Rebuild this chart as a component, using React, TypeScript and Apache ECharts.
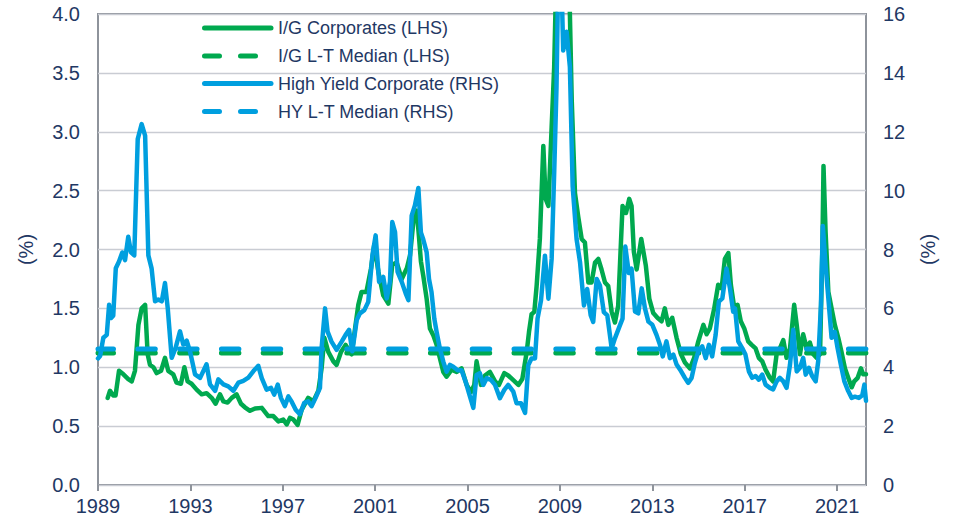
import React, { useEffect, useRef } from "react";
import * as echarts from "echarts";

const START_YEAR = 1989;
const END_YEAR = 2022.25;
const xTickYears = [1989, 1993, 1997, 2001, 2005, 2009, 2013, 2017, 2021];

const igYears = [
  1989.42, 1989.52, 1989.66, 1989.76, 1989.91, 1990.1, 1990.31, 1990.46, 1990.6, 1990.75, 1990.89, 1991.04,
  1991.15, 1991.25, 1991.4, 1991.54, 1991.73, 1991.9, 1992.04, 1992.26, 1992.4, 1992.59, 1992.74, 1992.88,
  1993.05, 1993.27, 1993.49, 1993.7, 1993.92, 1994.09, 1994.28, 1994.43, 1994.61, 1994.79, 1995.0, 1995.19,
  1995.36, 1995.58, 1995.8, 1996.09, 1996.37, 1996.59, 1996.81, 1997.02, 1997.17, 1997.31, 1997.46, 1997.64,
  1997.82, 1998.1, 1998.32, 1998.54, 1998.68, 1998.8, 1998.97, 1999.19, 1999.33, 1999.52, 1999.72, 1999.98,
  2000.13, 2000.27, 2000.41, 2000.62, 2000.82, 2000.96, 2001.14, 2001.35, 2001.57, 2001.74, 2001.93, 2002.15,
  2002.37, 2002.51, 2002.65, 2002.8, 2002.9, 2002.98, 2003.08, 2003.23, 2003.37, 2003.52, 2003.66, 2003.8,
  2003.95, 2004.09, 2004.31, 2004.53, 2004.74, 2004.96, 2005.15, 2005.29, 2005.39, 2005.58, 2005.75, 2005.97,
  2006.19, 2006.36, 2006.59, 2006.76, 2006.98, 2007.2, 2007.37, 2007.56, 2007.66, 2007.77, 2007.89, 2007.99,
  2008.13, 2008.28, 2008.38, 2008.5, 2008.64, 2008.75, 2008.86, 2009.0, 2009.2, 2009.35, 2009.43, 2009.51,
  2009.65, 2009.79, 2009.94, 2010.08, 2010.23, 2010.37, 2010.52, 2010.66, 2010.8, 2010.95, 2011.09, 2011.24,
  2011.38, 2011.52, 2011.71, 2011.86, 2012.0, 2012.1, 2012.2, 2012.32, 2012.52, 2012.72, 2012.87, 2013.04,
  2013.22, 2013.4, 2013.54, 2013.69, 2013.86, 2014.05, 2014.24, 2014.41, 2014.63, 2014.81, 2014.99, 2015.21,
  2015.35, 2015.49, 2015.68, 2015.85, 2016.0, 2016.14, 2016.29, 2016.4, 2016.55, 2016.69, 2016.83, 2016.98,
  2017.15, 2017.3, 2017.47, 2017.61, 2017.76, 2017.9, 2018.09, 2018.23, 2018.38, 2018.52, 2018.67, 2018.81,
  2018.96, 2019.14, 2019.25, 2019.39, 2019.53, 2019.68, 2019.82, 2019.97, 2020.11, 2020.26, 2020.36, 2020.41,
  2020.5, 2020.62, 2020.76, 2020.9, 2021.05, 2021.19, 2021.34, 2021.48, 2021.63, 2021.74, 2021.89, 2022.03,
  2022.13, 2022.25,
];
const igValues = [
  0.74, 0.8, 0.76, 0.76, 0.97, 0.94, 0.9, 0.88, 0.97, 1.36, 1.5, 1.53,
  1.11, 1.02, 1.0, 0.95, 0.97, 1.08, 0.97, 0.94, 0.87, 0.86, 1.0, 0.88,
  0.86, 0.81, 0.77, 0.78, 0.74, 0.69, 0.77, 0.71, 0.7, 0.74, 0.77, 0.69,
  0.66, 0.63, 0.65, 0.655, 0.585, 0.585, 0.54, 0.556, 0.514, 0.57, 0.556, 0.51,
  0.64, 0.74, 0.71, 0.8, 0.99, 1.25, 1.13, 1.05, 1.02, 1.13, 1.19, 1.11,
  1.33, 1.53, 1.64, 1.64, 1.84, 2.04, 1.81, 1.61, 1.54, 1.87, 1.89, 1.75,
  1.84, 1.95, 2.23, 2.33, 2.1, 1.9, 1.78, 1.58, 1.33, 1.27, 1.19, 1.08,
  0.96, 0.92, 0.98, 0.96, 0.99, 0.85, 0.79, 0.85, 1.05, 0.85, 0.93, 0.96,
  0.88, 0.85, 0.95, 0.93, 0.89, 0.85, 0.9, 1.13, 1.3, 1.45, 1.47, 1.69,
  2.09, 2.88, 2.43, 2.37, 3.04, 3.55, 4.5, 5.6, 5.9, 4.8, 4.0, 3.27,
  2.48, 2.28, 2.09, 2.06, 1.72, 1.72, 1.89, 1.92, 1.83, 1.72, 1.69, 1.47,
  1.38, 1.52, 2.37, 2.31, 2.43, 2.37, 1.98, 1.83, 2.09, 1.86, 1.58, 1.46,
  1.42, 1.39, 1.5, 1.36, 1.42, 1.25, 1.11, 1.04, 0.99, 1.08, 1.22, 1.36,
  1.28, 1.33, 1.5, 1.7, 1.67, 1.92, 1.97, 1.7, 1.5, 1.53, 1.39, 1.33,
  1.22, 1.19, 1.16, 1.08, 1.05, 0.98, 0.91, 0.88, 1.11, 1.16, 1.23, 1.08,
  1.16, 1.53, 1.36, 1.11, 1.28, 1.16, 1.21, 1.11, 1.08, 1.11, 2.0, 2.71,
  2.15, 1.64, 1.5, 1.36, 1.25, 1.13, 0.99, 0.91, 0.83, 0.88, 0.91, 0.99,
  0.94, 0.94,
];

const hyYears = [
  1989.0, 1989.09, 1989.23, 1989.38, 1989.48, 1989.56, 1989.66, 1989.77, 1989.91, 1990.05, 1990.17, 1990.31,
  1990.43, 1990.57, 1990.72, 1990.89, 1991.04, 1991.18, 1991.32, 1991.47, 1991.61, 1991.76, 1991.9, 1992.02,
  1992.19, 1992.36, 1992.55, 1992.69, 1992.84, 1992.98, 1993.2, 1993.42, 1993.7, 1993.85, 1994.07, 1994.21,
  1994.43, 1994.64, 1994.86, 1995.08, 1995.29, 1995.51, 1995.73, 1995.94, 1996.09, 1996.3, 1996.49, 1996.63,
  1996.78, 1996.92, 1997.09, 1997.24, 1997.38, 1997.56, 1997.74, 1997.93, 1998.1, 1998.25, 1998.42, 1998.61,
  1998.68, 1998.83, 1998.94, 1999.11, 1999.33, 1999.55, 1999.72, 1999.87, 2000.01, 2000.2, 2000.34, 2000.53,
  2000.7, 2000.88, 2001.02, 2001.17, 2001.35, 2001.5, 2001.64, 2001.74, 2001.86, 2001.97, 2002.15, 2002.32,
  2002.44, 2002.58, 2002.72, 2002.87, 2002.98, 2003.08, 2003.23, 2003.33, 2003.44, 2003.56, 2003.66, 2003.8,
  2003.95, 2004.09, 2004.24, 2004.38, 2004.57, 2004.74, 2004.92, 2005.06, 2005.25, 2005.39, 2005.53, 2005.68,
  2005.83, 2006.01, 2006.19, 2006.4, 2006.59, 2006.76, 2006.98, 2007.12, 2007.31, 2007.49, 2007.63, 2007.77,
  2007.92, 2008.03, 2008.18, 2008.35, 2008.5, 2008.64, 2008.75, 2008.85, 2008.93, 2009.07, 2009.14, 2009.29,
  2009.43, 2009.55, 2009.72, 2009.87, 2010.04, 2010.18, 2010.33, 2010.44, 2010.59, 2010.73, 2010.9, 2011.05,
  2011.24, 2011.38, 2011.57, 2011.71, 2011.83, 2011.98, 2012.1, 2012.25, 2012.39, 2012.54, 2012.68, 2012.83,
  2013.0, 2013.18, 2013.33, 2013.45, 2013.61, 2013.76, 2013.91, 2014.05, 2014.24, 2014.41, 2014.55, 2014.7,
  2014.84, 2014.99, 2015.16, 2015.31, 2015.45, 2015.59, 2015.74, 2015.88, 2016.03, 2016.21, 2016.36, 2016.5,
  2016.58, 2016.72, 2016.89, 2017.03, 2017.18, 2017.32, 2017.47, 2017.61, 2017.76, 2017.9, 2018.09, 2018.23,
  2018.38, 2018.52, 2018.67, 2018.81, 2018.96, 2019.1, 2019.25, 2019.39, 2019.53, 2019.64, 2019.78, 2019.92,
  2020.07, 2020.18, 2020.3, 2020.38, 2020.5, 2020.62, 2020.76, 2020.9, 2021.02, 2021.16, 2021.31, 2021.48,
  2021.63, 2021.77, 2021.94, 2022.09, 2022.18, 2022.25,
];
const hyValues = [
  4.3, 4.38, 5.0, 5.1, 6.12, 5.67, 5.75, 7.36, 7.59, 7.9, 7.64, 8.43,
  7.9, 7.8, 11.75, 12.26, 11.87, 7.8, 7.36, 6.24, 6.3, 6.24, 6.86, 6.0,
  4.32, 4.66, 5.22, 4.77, 4.9, 4.55, 3.76, 3.64, 4.1, 3.42, 3.2, 3.59,
  3.42, 3.35, 3.2, 3.48, 3.54, 3.65, 3.87, 4.05, 3.63, 3.24, 3.3, 3.07,
  3.41, 2.96, 2.68, 3.01, 2.84, 2.56, 2.4, 2.79, 2.84, 2.68, 2.96, 3.3,
  4.65, 6.0, 5.21, 4.87, 4.59, 4.87, 5.1, 5.27, 4.54, 5.6, 5.83, 5.94,
  6.22, 7.8, 8.48, 6.9, 7.07, 6.34, 6.9, 8.93, 8.59, 7.24, 6.9, 6.51,
  6.28, 9.15, 9.5, 10.09, 8.58, 8.35, 7.9, 7.0, 6.55, 5.65, 5.2, 4.64,
  4.19, 3.85, 4.08, 4.02, 3.9, 3.9, 3.5, 3.12, 2.62, 3.74, 3.8, 3.4,
  3.63, 3.57, 3.4, 2.95, 3.23, 3.4, 3.17, 2.78, 2.78, 2.45, 4.08, 4.3,
  4.3, 5.65, 6.27, 7.79, 6.33, 7.68, 10.6, 13.5, 17.5, 17.0, 14.76, 15.4,
  14.2, 10.15, 8.35, 7.56, 6.1, 6.66, 5.77, 5.54, 7.0, 6.78, 5.87, 5.76,
  4.64, 4.98, 5.37, 5.65, 8.1, 7.2, 7.35, 5.89, 5.83, 6.68, 6.0, 5.55,
  5.44, 5.1, 4.76, 4.37, 4.88, 4.31, 4.43, 4.09, 3.87, 3.64, 3.47, 3.64,
  4.14, 4.54, 4.71, 4.31, 4.76, 4.37, 5.1, 6.23, 6.34, 7.35, 6.68, 5.89,
  6.0, 4.88, 4.65, 4.43, 3.86, 3.64, 3.7, 3.58, 3.75, 3.41, 3.3, 3.25,
  3.52, 3.64, 3.52, 3.3, 4.09, 5.27, 3.86, 3.98, 4.32, 3.75, 3.98, 3.7,
  3.52, 4.2, 6.12, 8.8, 7.47, 6.34, 5.0, 5.2, 4.65, 4.09, 3.53, 3.19,
  2.96, 3.0, 2.96, 3.05, 3.41, 2.86,
];

const igMedian = 1.12;
const hyMedian = 4.62;

const leftTicks = [0, 0.5, 1, 1.5, 2, 2.5, 3, 3.5, 4];
const rightTicks = [0, 2, 4, 6, 8, 10, 12, 14, 16];

const legendNames = [
  "I/G Corporates (LHS)",
  "I/G L-T Median (LHS)",
  "High Yield Corporate (RHS)",
  "HY L-T Median (RHS)",
];

const GREEN = "#00A94F";
const BLUE = "#009FDF";
const TEXT = "#1F3864";
const FONT = "'Liberation Sans', Arial, Helvetica, sans-serif";
const AXIS_GRAY = "#8E939B";
const GRID_GRAY = "#C9CCD3";

export default function App() {
  const ref = useRef<HTMLDivElement>(null);

  useEffect(() => {
    if (!ref.current) return;
    const chart = echarts.init(ref.current, undefined, { renderer: "svg" });
    const span = END_YEAR - START_YEAR;
    const tickOffsets = xTickYears.map((y) => y - START_YEAR);
    const igData = igYears.map((y, i) => [y - START_YEAR, igValues[i]]);
    const hyData = hyYears.map((y, i) => [y - START_YEAR, hyValues[i]]);

    const legendRowsY = [28, 56, 83.5, 111.5];
    const legendColors = [GREEN, GREEN, BLUE, BLUE];
    const legendDashed = [false, true, false, true];
    const legendGraphics: any[] = [];
    legendNames.forEach((name, i) => {
      legendGraphics.push({
        type: "line",
        shape: { x1: 204.5, y1: legendRowsY[i], x2: 271, y2: legendRowsY[i] },
        style: {
          stroke: legendColors[i],
          lineWidth: 5,
          lineCap: "round",
          lineDash: legendDashed[i] ? [15, 21] : null,
        },
        z: 100,
      });
      legendGraphics.push({
        type: "text",
        x: 278,
        y: legendRowsY[i],
        style: {
          text: name,
          fill: TEXT,
          fontSize: 18,
          fontFamily: FONT,
          align: "left",
          verticalAlign: "middle",
        },
        z: 100,
      });
    });

    const dashStyle = { type: [17.5, 24.3], dashOffset: 2.25, width: 5, cap: "round" };

    chart.setOption({
      animation: false,
      grid: {
        left: 98,
        right: 89,
        top: 14,
        bottom: 41,
        show: true,
        borderColor: AXIS_GRAY,
        borderWidth: 2,
        backgroundColor: "transparent",
      },
      xAxis: {
        type: "value",
        min: 0,
        max: span,
        interval: 4,
        axisLine: { show: false },
        axisTick: {
          show: true,
          length: 6,
          customValues: tickOffsets,
          lineStyle: { color: AXIS_GRAY, width: 2 },
        },
        axisLabel: {
          customValues: tickOffsets,
          color: TEXT,
          fontSize: 20,
          fontFamily: FONT,
          margin: 11,
          formatter: (v: number) => (Math.abs(v % 4) < 1e-6 ? String(START_YEAR + Math.round(v)) : ""),
        },
        splitLine: { show: false },
      },
      yAxis: [
        {
          type: "value",
          min: leftTicks[0],
          max: leftTicks[leftTicks.length - 1],
          interval: 0.5,
          position: "left",
          axisLine: { show: false },
          axisTick: { show: false },
          axisLabel: {
            color: TEXT,
            fontSize: 20,
            fontFamily: FONT,
            margin: 18,
            formatter: (v: number) => v.toFixed(1),
          },
          splitLine: { show: true, lineStyle: { color: GRID_GRAY, width: 1.3 } },
          name: "(%)",
          nameLocation: "middle",
          nameGap: 62,
          nameRotate: 90,
          nameTextStyle: { color: TEXT, fontSize: 20, fontFamily: FONT },
        },
        {
          type: "value",
          min: rightTicks[0],
          max: rightTicks[rightTicks.length - 1],
          interval: 2,
          position: "right",
          axisLine: { show: false },
          axisTick: { show: false },
          axisLabel: {
            color: TEXT,
            fontSize: 20,
            fontFamily: FONT,
            margin: 17,
          },
          splitLine: { show: false },
          name: "(%)",
          nameLocation: "middle",
          nameGap: 52,
          nameRotate: 90,
          nameTextStyle: { color: TEXT, fontSize: 20, fontFamily: FONT },
        },
      ],
      series: [
        {
          name: legendNames[0],
          type: "line",
          yAxisIndex: 0,
          data: igData,
          symbol: "none",
          showSymbol: false,
          lineStyle: { color: GREEN, width: 4.5, cap: "round", join: "round" },
          itemStyle: { color: GREEN },
        },
        {
          name: legendNames[1],
          type: "line",
          yAxisIndex: 0,
          data: [
            [0, igMedian],
            [span, igMedian],
          ],
          symbol: "none",
          showSymbol: false,
          lineStyle: { ...dashStyle, color: GREEN },
          itemStyle: { color: GREEN },
        },
        {
          name: legendNames[2],
          type: "line",
          yAxisIndex: 1,
          data: hyData,
          symbol: "none",
          showSymbol: false,
          lineStyle: { color: BLUE, width: 4.5, cap: "round", join: "round" },
          itemStyle: { color: BLUE },
        },
        {
          name: legendNames[3],
          type: "line",
          yAxisIndex: 1,
          data: [
            [0, hyMedian],
            [span, hyMedian],
          ],
          symbol: "none",
          showSymbol: false,
          lineStyle: { ...dashStyle, color: BLUE },
          itemStyle: { color: BLUE },
        },
      ],
      graphic: legendGraphics,
    });

    return () => {
      chart.dispose();
    };
  }, []);

  return (
    <div
      ref={ref}
      style={{ position: "fixed", left: 0, top: 0, width: 955, height: 526, background: "#ffffff" }}
    />
  );
}
